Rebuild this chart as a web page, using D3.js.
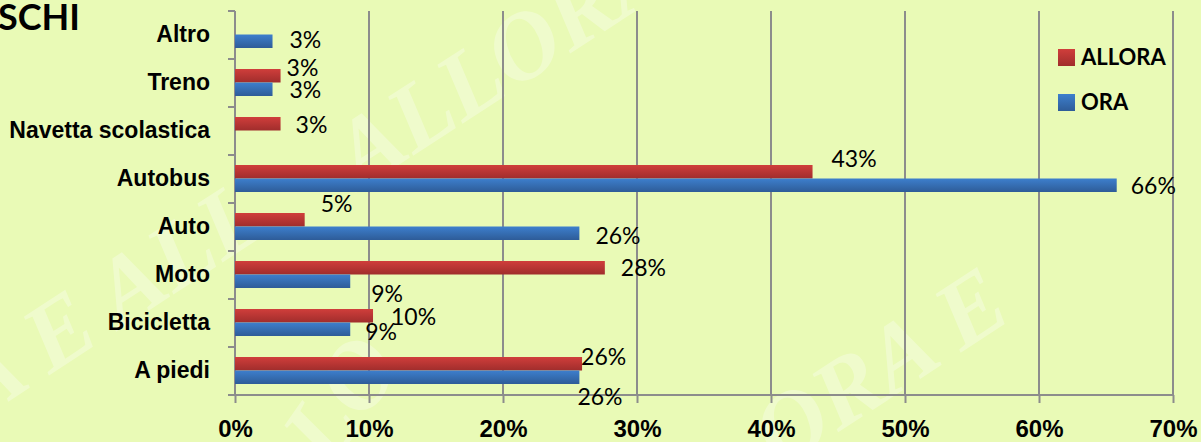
<!DOCTYPE html>
<meta charset="utf-8">
<style>
body { margin: 0; background: #e9fab6; }
svg { display: block; font-family: Lato, "Open Sans", sans-serif; }
.grid line { stroke: #8c8c8c; stroke-width: 2px; }
.axis path, .axis line { stroke: #8c8c8c; stroke-width: 2px; }
.axis text { fill: #000; font-weight: 700; }
.lbl { font-size: 23px; fill: #000; }
.wm { font-family: "Liberation Serif", serif; font-style: italic; font-weight: 700; fill: #fff; opacity: 0.3; }
</style>
<svg width="1201" height="442"></svg>
<script src="https://d3js.org/d3.v7.min.js"></script>
<script>
// categories, top to bottom
var categories = ["Altro", "Treno", "Navetta scolastica", "Autobus", "Auto", "Moto", "Bicicletta", "A piedi"];
var series = ["ALLORA", "ORA"];
// percentages (null = no bar)
var allora = [null, 3.4, 3.4, 43.1, 5.2, 27.6, 10.3, 25.9];
var ora    = [2.8, 2.8, null, 65.8, 25.7, 8.6, 8.6, 25.7];
var xTicks = [0, 10, 20, 30, 40, 50, 60, 70];

// label nudges [dx, dy] from the default spot, the original labels were dragged around by hand
var nudgeAllora = [null, [-10, -8], [-1, 1], [3, -13], [0, -16], [0, 0], [2, 1], [-17, -7]];
var nudgeOra    = [[1, -2], [1, 0], null, [-2, 0], [0, 2], [5, 12], [-1, 2], [-18, 19]];

var svg = d3.select("svg"),
    width = +svg.attr("width"),
    height = +svg.attr("height");

var plotL = 235, plotR = 1173, plotT = 11, plotB = 395;

var x = d3.scaleLinear().domain([0, 70]).range([plotL, plotR]);
var y = d3.scaleBand().domain(categories).range([plotT, plotB]);
var y1 = d3.scaleBand().domain(series).range([10, 37]);

// gradients for the bars
var defs = svg.append("defs");
function grad(id, c1, c2) {
  var g = defs.append("linearGradient").attr("id", id)
      .attr("x1", 0).attr("y1", 0).attr("x2", 0).attr("y2", 1);
  g.append("stop").attr("offset", "0%").attr("stop-color", c1);
  g.append("stop").attr("offset", "100%").attr("stop-color", c2);
}
grad("gAllora", "#d03e3b", "#a02d2c");
grad("gOra", "#3d7fcd", "#2e5c98");
var fills = { ALLORA: "url(#gAllora)", ORA: "url(#gOra)" };

// watermark
var wm = svg.append("g");
wm.append("text").attr("class", "wm").attr("font-size", 96)
    .attr("transform", "translate(360,190) rotate(-33)").text("ALLORA E");
wm.append("text").attr("class", "wm").attr("font-size", 96)
    .attr("transform", "translate(-20,420) rotate(-33)").text("A E ALL");
wm.append("text").attr("class", "wm").attr("font-size", 96)
    .attr("transform", "translate(780,470) rotate(-33)").text("ORA E");
wm.append("text").attr("class", "wm").attr("font-size", 96)
    .attr("transform", "translate(330,470) rotate(-55)").text("LO");

// title (cut off on the left in the original)
svg.append("text").attr("x", -2).attr("y", 30)
    .attr("font-size", 36).attr("font-weight", 700).text("SCHI");

// grid
svg.append("g").attr("class", "grid")
  .selectAll("line").data(xTicks.slice(1)).enter().append("line")
    .attr("x1", function(d) { return x(d); }).attr("x2", function(d) { return x(d); })
    .attr("y1", plotT).attr("y2", plotB);

// bottom axis
svg.append("g").attr("class", "axis")
    .attr("transform", "translate(0," + plotB + ")")
    .call(d3.axisBottom(x).tickValues(xTicks).tickSize(8).tickSizeOuter(0)
        .tickFormat(function(d) { return d + "%"; }))
    .call(function(g) {
      g.select(".domain").attr("d", "M" + (plotL - 7) + ",0H" + plotR);
      g.selectAll("text").attr("font-size", 24).attr("dy", 0).attr("y", 42);
    });

// left axis: labels centred on bands, ticks on band edges
var yAxis = svg.append("g").attr("class", "axis")
    .attr("transform", "translate(" + plotL + ",0)")
    .call(d3.axisLeft(y).tickSize(0).tickPadding(25))
    .call(function(g) {
      g.select(".domain").attr("d", "M0," + plotT + "V" + plotB);
      g.selectAll("text").attr("font-size", 23);
    });
yAxis.selectAll(".edge").data(categories).enter().append("line")
    .attr("class", "edge")
    .attr("x1", -7).attr("x2", 0)
    .attr("y1", function(d) { return y(d); }).attr("y2", function(d) { return y(d); });

// bars
var rows = [];
categories.forEach(function(c, i) {
  rows.push({ cat: c, s: "ALLORA", v: allora[i], n: nudgeAllora[i] });
  rows.push({ cat: c, s: "ORA", v: ora[i], n: nudgeOra[i] });
});
rows = rows.filter(function(d) { return d.v != null; });

svg.append("g").selectAll("rect").data(rows).enter().append("rect")
    .attr("x", x(0))
    .attr("y", function(d) { return y(d.cat) + y1(d.s); })
    .attr("width", function(d) { return x(d.v) - x(0); })
    .attr("height", y1.bandwidth())
    .attr("fill", function(d) { return fills[d.s]; });

// data labels
svg.append("g").selectAll("text").data(rows).enter().append("text")
    .attr("class", "lbl")
    .attr("x", function(d) { return x(d.v) + 16 + d.n[0]; })
    .attr("y", function(d) { return y(d.cat) + y1(d.s) + y1.bandwidth() / 2 + 8.5 + d.n[1]; })
    .text(function(d) { return Math.round(d.v) + "%"; });

// legend
var legend = svg.append("g").selectAll("g").data(series).enter().append("g")
    .attr("transform", function(d, i) { return "translate(1058," + (49 + i * 45) + ")"; });
legend.append("rect").attr("width", 17).attr("height", 17)
    .attr("fill", function(d) { return fills[d]; });
legend.append("text").attr("x", 23).attr("y", 16)
    .attr("font-size", 22).attr("font-weight", 700).text(function(d) { return d; });
</script>
